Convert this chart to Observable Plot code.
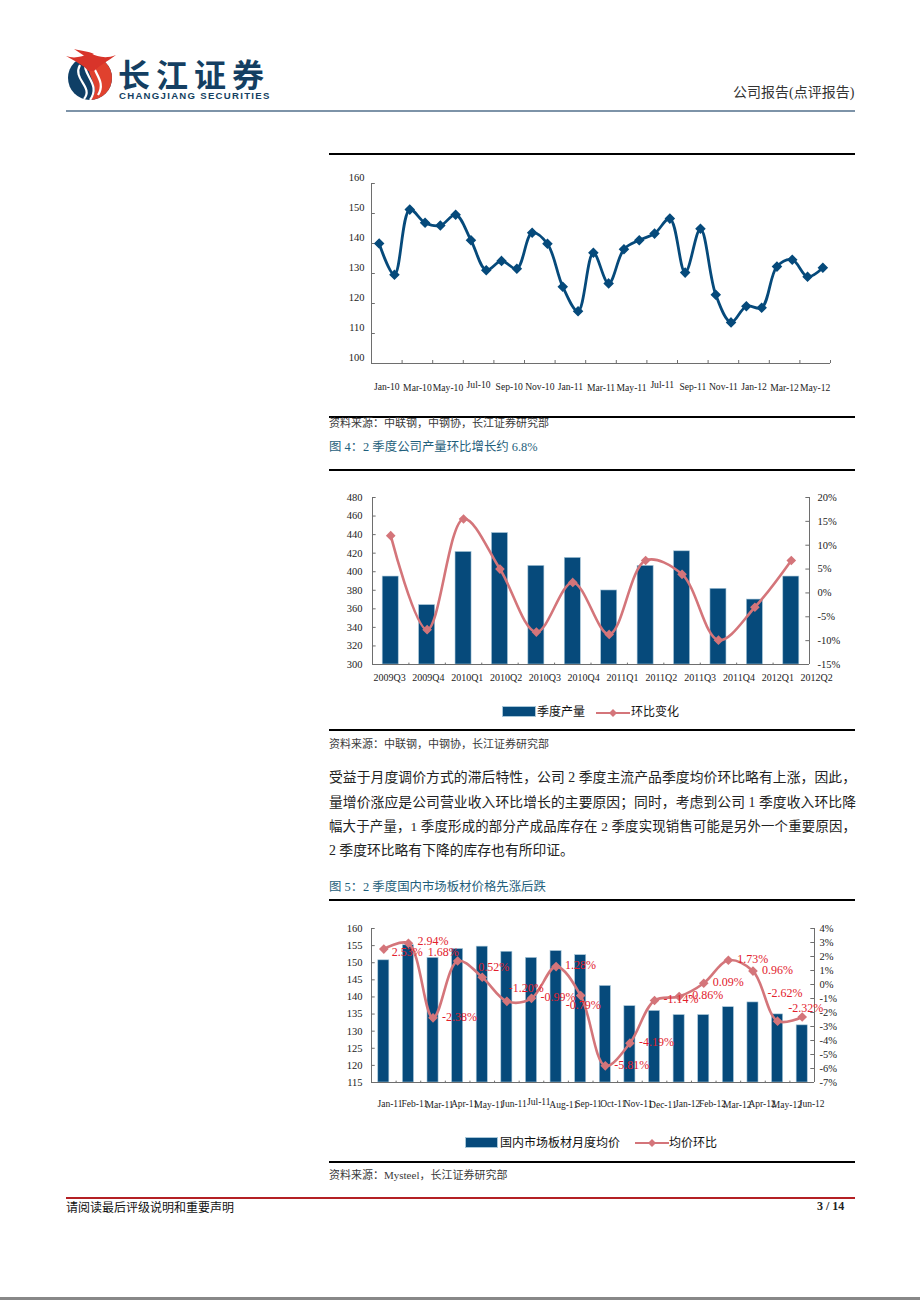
<!DOCTYPE html>
<html><head><meta charset="utf-8">
<script src="https://cdn.jsdelivr.net/npm/d3@7"></script>
<script src="https://cdn.jsdelivr.net/npm/@observablehq/plot@0.6"></script>
<style>
html,body{margin:0;padding:0;background:#fff}
#page{position:relative;width:920px;height:1300px;overflow:hidden;background:#fff;font-family:"Liberation Serif","Noto Sans CJK SC",serif;color:#222}
#page>div.t{position:absolute;white-space:nowrap}
.r{position:absolute;left:329px;width:526px;height:2px;background:#000}
.src{left:329px;font-size:11px;color:#3a3a3a;line-height:12px}
.fig{left:329px;font-size:12.4px;color:#1f5f7c;line-height:16px}
.para{left:329px;width:527px;font-size:13.8px;line-height:18px;color:#222;white-space:normal!important;text-align:justify;text-align-last:justify}
.leg{font-size:12px;line-height:14px;color:#111}
svg.plot{position:absolute;overflow:visible;background:transparent}
</style></head><body><div id="page"></div>
<script>
// ---------- data ----------
const monthLabels1 = ["Jan-10","Mar-10","May-10","Jul-10","Sep-10","Nov-10","Jan-11","Mar-11","May-11","Jul-11","Sep-11","Nov-11","Jan-12","Mar-12","May-12"];
const priceIndex = [140,129.6,151.3,146.9,146,149.6,141.1,131.1,134.2,131.6,143.6,139.9,125.6,117.4,136.9,126.7,138.1,141.1,143.3,148.3,130.3,144.9,122.9,113.7,119.1,118.6,132.3,134.6,128.9,131.9];

const quarters = ["2009Q3","2009Q4","2010Q1","2010Q2","2010Q3","2010Q4","2011Q1","2011Q2","2011Q3","2011Q4","2012Q1","2012Q2"];
const output = [394.8,364,421.3,441.7,406.3,414.9,379.8,406.3,422,381.6,370,394.8];
const outputChange = [12.0,-7.7,15.5,5.0,-8.2,2.2,-8.7,6.8,3.9,-9.9,-3.0,6.8];

const months3 = ["Jan-11","Feb-11","Mar-11","Apr-11","May-11","Jun-11","Jul-11","Aug-11","Sep-11","Oct-11","Nov-11","Dec-11","Jan-12","Feb-12","Mar-12","Apr-12","May-12","Jun-12"];
const platePrice = [150.7,155.1,151.4,154,154.7,153.2,151.4,153.4,152.2,143.2,137.3,135.9,134.7,134.7,137,138.4,134.9,131.7];
const plateChange = [2.53,2.94,-2.38,1.68,0.52,-1.20,-0.99,1.28,-0.79,-5.81,-4.19,-1.14,-0.86,0.09,1.73,0.96,-2.62,-2.32];

const ticks1 = [100,110,120,130,140,150,160];
const ticks2L = [300,320,340,360,380,400,420,440,460,480];
const ticks2R = [-15,-10,-5,0,5,10,15,20];
const ticks3L = [115,120,125,130,135,140,145,150,155,160];
const ticks3R = [-7,-6,-5,-4,-3,-2,-1,0,1,2,3,4];

// ---------- palette and fonts ----------
const BLUE="#064a7b", PINK="#d4757a", RED="#e2202c", AXIS="#6e6e6e", FONT='"Liberation Serif","Noto Sans CJK SC",serif';
const page=document.getElementById("page");

function place(marks,{left,top,width,height,ml,mr,mt,mb,xDomain,yDomain}){
  const svg=Plot.plot({width,height,marginLeft:ml,marginRight:mr,marginTop:mt,marginBottom:mb,
    x:{domain:xDomain,axis:null},y:{domain:yDomain,axis:null},
    style:{fontFamily:FONT,fontSize:"10px",color:"#222",background:"transparent",overflow:"visible"},marks});
  svg.classList.add("plot");svg.style.position="absolute";svg.style.left=left+"px";svg.style.top=top+"px";
  page.appendChild(svg);
}
const range=(n,s=1)=>d3.range(0,n+0.001,s);
function yAxis(vals,{anchor="left",pad,fmt=d=>d,dy=0,xAt,xLen}){
  return [
    Plot.ruleX([xAt],{stroke:AXIS}),
    Plot.ruleY(vals,{x1:xAt,x2:xAt+xLen,stroke:AXIS}),
    Plot.axisY(vals,{anchor,tickSize:0,tickPadding:pad,tickFormat:fmt,label:null,dy,fontSize:10.5,fill:"#222"})
  ];
}
function xAxis(ticks,yAt,yLen){
  return [Plot.ruleY([yAt],{stroke:AXIS}),Plot.ruleX(ticks,{y1:yAt,y2:yAt+yLen,stroke:AXIS})];
}
function xLabels(labels,pos,yAt,dy,size,nudge){
  return labels.map((s,i)=>Plot.text([s],{x:()=>pos(i),y:()=>yAt,text:d=>d,dy:dy+nudge(s),fontSize:size,fill:"#222"}));
}

// ---------- chart 1 ----------
const d1=priceIndex.map((v,i)=>({i:i+0.5,v}));
place([
  ...xAxis(range(30,2),100,1),
  ...yAxis(ticks1,{pad:7,dy:-6,xAt:0,xLen:0.25}),
  ...xLabels(monthLabels1,i=>i*2+1,100,23,9.6,s=>s.startsWith("Jul")?-2:(/Mar|May/.test(s)?1:0)),
  Plot.line(d1,{x:"i",y:"v",stroke:BLUE,strokeWidth:2.8,curve:"catmull-rom"}),
  Plot.dot(d1,{x:"i",y:"v",symbol:"diamond2",r:3.8,fill:BLUE,stroke:BLUE})
],{left:329,top:160,width:526,height:250,ml:42,mr:25,mt:23,mb:47,xDomain:[0,30],yDomain:[100,160]});

// ---------- chart 2 ----------
const d2=output.map((v,i)=>({i:i+0.5,v}));
const d2b=outputChange.map((v,i)=>({i:i+0.5,v}));
const frame2={left:329,top:475,width:526,height:215,ml:43,mr:46,mt:22,mb:26,xDomain:[0,12]};
place([
  Plot.rectY(d2,{x1:d=>d.i-0.22,x2:d=>d.i+0.22,y1:()=>300,y2:"v",fill:BLUE,stroke:"#a7c6d8",strokeWidth:0.6}),
  ...xAxis(range(12),300,1.5),
  ...yAxis(ticks2L,{pad:10,xAt:0,xLen:0.1}),
  ...xLabels(quarters,i=>0.47+i*1.066,300,13,10,()=>0)
],{...frame2,yDomain:[300,480]});
place([
  ...yAxis(ticks2R,{anchor:"right",pad:8,fmt:d=>d+"%",xAt:12,xLen:-0.1}),
  Plot.line(d2b,{x:"i",y:"v",stroke:PINK,strokeWidth:2.6,curve:"catmull-rom"}),
  Plot.dot(d2b,{x:"i",y:"v",symbol:"diamond2",r:3.4,fill:PINK,stroke:PINK})
],{...frame2,yDomain:[-15,20]});

// ---------- chart 3 ----------
const d3a=platePrice.map((v,i)=>({i:i+0.5,v}));
const d3b=plateChange.map((v,i)=>({i:i+0.5,v}));
const frame3={left:329,top:905,width:526,height:200,ml:42,mr:41,mt:23,mb:23,xDomain:[0,18]};
const nudge3={0:[8,3],1:[9,-2],3:[-30,-9],4:[-4,-10],5:[2,-13],8:[-15,10],16:[-10,-28],17:[-14,-9]};
place([
  Plot.rectY(d3a,{x1:d=>d.i-0.225,x2:d=>d.i+0.225,y1:()=>115,y2:"v",fill:BLUE,stroke:"#a7c6d8",strokeWidth:0.6}),
  ...xAxis(range(18),115,0.4),
  ...yAxis(ticks3L,{pad:9,xAt:0,xLen:0.15}),
  ...xLabels(months3,i=>0.75+i*1.008,115,21,9.5,s=>s.startsWith("Jul")?-2:(/Mar|May|Aug|Dec/.test(s)?1:0))
],{...frame3,yDomain:[115,160]});
place([
  ...yAxis(ticks3R,{anchor:"right",pad:5,fmt:d=>d+"%",xAt:18,xLen:-0.15}),
  Plot.line(d3b,{x:"i",y:"v",stroke:PINK,strokeWidth:2.6,curve:"catmull-rom"}),
  Plot.dot(d3b,{x:"i",y:"v",symbol:"diamond2",r:3.4,fill:PINK,stroke:PINK}),
  ...d3b.map((d,k)=>{const [dx,dy]=nudge3[k]||[9,-1];
    return Plot.text([d],{x:"i",y:"v",text:e=>e.v.toFixed(2)+"%",textAnchor:"start",dx,dy,fill:RED,fontSize:12});})
],{...frame3,yDomain:[-7,4]});

// ---------- page furniture ----------
function T(cls,left,top,html,extra=""){const e=document.createElement("div");e.className="t "+cls;e.style.cssText=`left:${left}px;top:${top}px;${extra}`;e.innerHTML=html;page.appendChild(e);return e;}
function R(top,h=2,color="#000",left=329,w=526){const e=document.createElement("div");e.className="r";e.style.cssText=`top:${top}px;height:${h}px;background:${color};left:${left}px;width:${w}px`;page.appendChild(e);}
R(153);R(416);R(468.5);R(729);R(899);R(1161);
R(110,1.5,"#7d93a8",66,789);
R(1196.5,2,"#b42024",66,789);
R(1297,3,"#888",0,920);

T("",0,0,`<svg width="120" height="110" viewBox="0 0 120 110" style="position:absolute;left:60px;top:45px;overflow:visible">
 <circle cx="30" cy="33" r="22" fill="#0f3f66"/>
 <path d="M30 11 A22 22 0 0 1 30 55 C44 42 22 30 30 11Z" fill="#e0412e"/>
 <path d="M26 14 C20 30 42 38 30 55 M20 20 C12 34 34 42 24 54 M34 11 C28 26 48 34 38 50" stroke="#fff" stroke-width="2.2" fill="none"/>
 <path d="M6 11 C14 14 22 12 30 8 C38 12 46 14 56 10 C48 16 40 20 34 26 L28 26 C24 20 14 16 6 11Z" fill="#d8342a"/>
 <path d="M14 4 C22 6 28 6 34 9 L26 12Z" fill="#d8342a"/>
</svg>`);
T("",118,58,"长江证券",'font:700 32px/30px "Noto Sans CJK SC";color:#143f62;letter-spacing:6px');
T("",119,90.5,"CHANGJIANG SECURITIES",'font:700 9.6px/10px "Liberation Sans";color:#143f62;letter-spacing:1.28px');
T("",733,84,"公司报告(点评报告)",'font-size:14px;line-height:18px;color:#333');

T("src",329,416.5,"资料来源：中联钢，中钢协，长江证券研究部");
T("fig",329,439,"图 4：2 季度公司产量环比增长约  6.8%");
T("src",329,737.5,"资料来源：中联钢，中钢协，长江证券研究部");
["受益于月度调价方式的滞后特性，公司 2 季度主流产品季度均价环比略有上涨，因此，",
 "量增价涨应是公司营业收入环比增长的主要原因；同时，考虑到公司 1 季度收入环比降",
 "幅大于产量，1 季度形成的部分产成品库存在 2 季度实现销售可能是另外一个重要原因，"
].forEach((s,i)=>T("para",329,[769,793.5,818][i],s,i==2?"font-size:13.4px":""));
T("",329,842,"2 季度环比略有下降的库存也有所印证。",'font-size:13.8px;line-height:18px;color:#222');
T("fig",329,879,"图 5：2 季度国内市场板材价格先涨后跌");
T("src",329,1169,"资料来源：Mysteel，长江证券研究部");

// legends
const lineSwatch=`<svg width="34" height="10" style="display:block"><line x1="0" y1="5" x2="34" y2="5" stroke="${PINK}" stroke-width="2.2"/><path d="M17 1 L21 5 L17 9 L13 5Z" fill="${PINK}"/></svg>`;
T("",503,707,"",`width:32px;height:9px;background:${BLUE};outline:0.6px solid #a7c6d8`);
T("leg",537,705,"季度产量");
T("",596,707.5,lineSwatch);
T("leg",631,705,"环比变化");
T("",466,1138,"",`width:31px;height:9px;background:${BLUE};outline:0.6px solid #a7c6d8`);
T("leg",500,1136,"国内市场板材月度均价");
T("",635,1137.5,lineSwatch);
T("leg",669,1136,"均价环比");

T("",66,1201,"请阅读最后评级说明和重要声明",'font-size:12px;line-height:15px;color:#111');
T("",817,1199,"3 / 14",'font:700 12px/14px "Liberation Serif";color:#222');
</script></body></html>
